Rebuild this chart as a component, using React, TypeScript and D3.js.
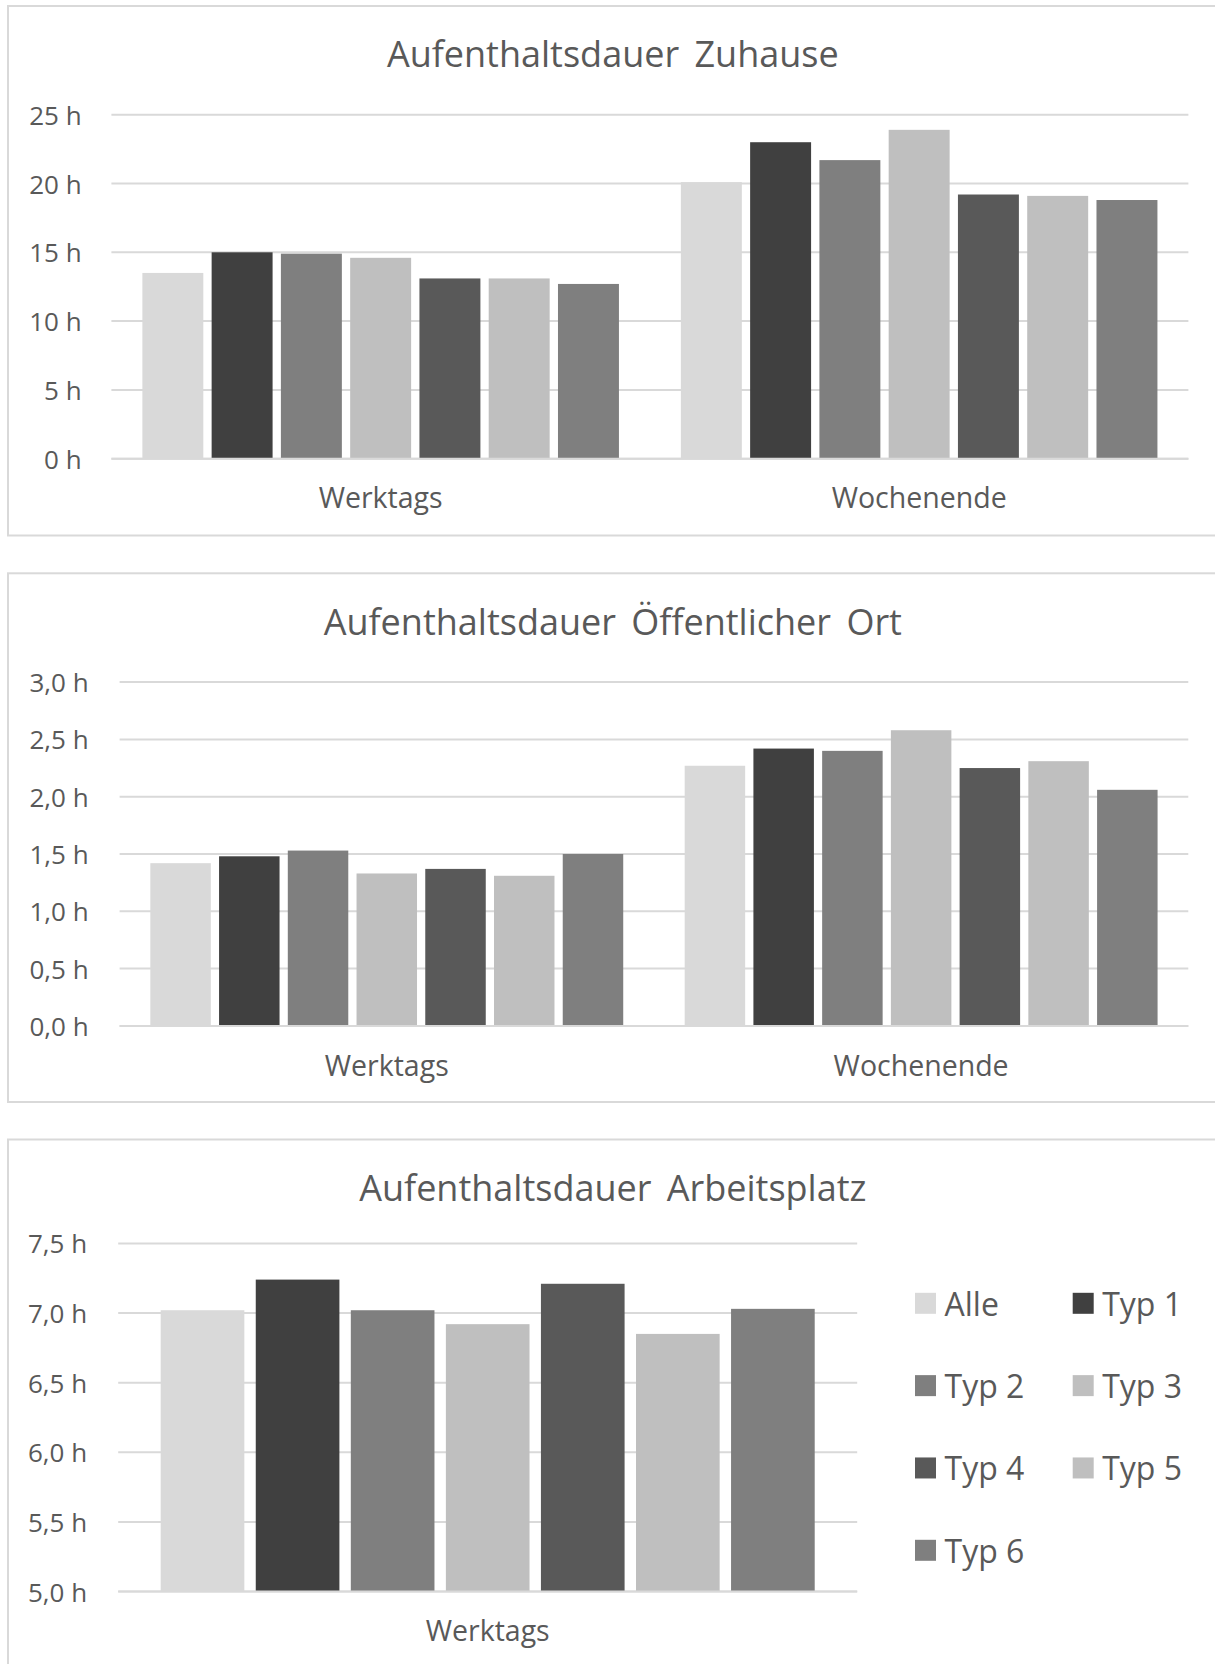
import React from 'react';
import * as d3 from 'd3';

const seriesNames = ['Alle', 'Typ 1', 'Typ 2', 'Typ 3', 'Typ 4', 'Typ 5', 'Typ 6'];
const seriesColors = ['#d9d9d9', '#404040', '#7f7f7f', '#bfbfbf', '#595959', '#bfbfbf', '#7f7f7f'];

const categoriesTwo = ['Werktags', 'Wochenende'];
const categoriesOne = ['Werktags'];

const zuhauseWerktags = [13.5, 15.0, 14.9, 14.6, 13.1, 13.1, 12.7];
const zuhauseWochenende = [20.1, 23.0, 21.7, 23.9, 19.2, 19.1, 18.8];
const zuhauseTicks = [0, 5, 10, 15, 20, 25];

const oeffentlichWerktags = [1.42, 1.48, 1.53, 1.33, 1.37, 1.31, 1.5];
const oeffentlichWochenende = [2.27, 2.42, 2.4, 2.58, 2.25, 2.31, 2.06];
const oeffentlichTicks = [0, 0.5, 1.0, 1.5, 2.0, 2.5, 3.0];

const arbeitWerktags = [7.02, 7.24, 7.02, 6.92, 7.21, 6.85, 7.03];
const arbeitTicks = [5.0, 5.5, 6.0, 6.5, 7.0, 7.5];

const titles = ['Aufenthaltsdauer Zuhause', 'Aufenthaltsdauer Öffentlicher Ort', 'Aufenthaltsdauer Arbeitsplatz'];

const deLocale = d3.formatLocale({ decimal: ',', thousands: '.', grouping: [3], currency: ['', ' €'] });
const fmtInt = (d: number) => `${deLocale.format('d')(d)} h`;
const fmtDec = (d: number) => `${deLocale.format('.1f')(d)} h`;

const FONT = "'Open Sans', 'Noto Sans', sans-serif";
const TEXT = '#595959';
const GRID = '#d9d9d9';

type PanelProps = {
  title: string;
  categories: string[];
  values: number[][];
  ticks: number[];
  fmt: (d: number) => string;
  layout: {
    boxTop: number;
    boxBottom: number;
    titleY: number;
    yRange: [number, number];
    gridX: [number, number];
    tickX: number;
    catY: number;
  };
};

function Panel({ title, categories, values, ticks, fmt, layout }: PanelProps) {
  const y = d3.scaleLinear().domain([ticks[0], ticks[ticks.length - 1]]).range(layout.yRange);
  const x0 = d3.scaleBand<string>().domain(categories).range(layout.gridX).paddingInner(0.115).paddingOuter(0.0575);
  const x1 = d3.scaleBand<string>().domain(seriesNames).range([0, x0.bandwidth()]).paddingInner(0.12).paddingOuter(0);
  const base = y(ticks[0]);
  return (
    <g>
      <rect x={8} y={layout.boxTop} width={1215} height={layout.boxBottom - layout.boxTop} fill="#fff" stroke={GRID} strokeWidth={2} />
      <text x={612.8} y={layout.titleY} textAnchor="middle" fontFamily={FONT} fontSize={36} wordSpacing={6} fill={TEXT}>{title}</text>
      {ticks.map((t) => (
        <g key={t}>
          <line x1={layout.gridX[0]} x2={layout.gridX[1]} y1={y(t)} y2={y(t)} stroke={GRID} strokeWidth={2} />
          <text x={layout.tickX} y={y(t)} textAnchor="end" dominantBaseline="central" fontFamily={FONT} fontSize={26} fill={TEXT}>{fmt(t)}</text>
        </g>
      ))}
      {categories.map((c, ci) => (
        <g key={c} transform={`translate(${x0(c)},0)`}>
          {values[ci].map((v, si) => (
            <rect key={si} x={x1(seriesNames[si])} y={y(v)} width={x1.bandwidth()} height={base - y(v)} fill={seriesColors[si]} />
          ))}
          <text x={x0.bandwidth() / 2} y={layout.catY} textAnchor="middle" fontFamily={FONT} fontSize={28.5} fill={TEXT}>{c}</text>
        </g>
      ))}
      <line x1={layout.gridX[0]} x2={layout.gridX[1]} y1={base} y2={base} stroke={GRID} strokeWidth={2} />
    </g>
  );
}

function Legend() {
  const cols = [915, 1072.7];
  const rowY = d3.scaleLinear().domain([0, 3]).range([1303.3, 1550.3]);
  return (
    <g>
      {seriesNames.map((n, i) => {
        const cx = cols[i % 2];
        const cy = rowY(Math.floor(i / 2));
        return (
          <g key={n}>
            <rect x={cx} y={cy - 10.5} width={21} height={21} fill={seriesColors[i]} />
            <text x={cx + 29.5} y={cy} dominantBaseline="central" fontFamily={FONT} fontSize={32} fill={TEXT}>{n}</text>
          </g>
        );
      })}
    </g>
  );
}

export default function App() {
  return (
    <svg width={1215} height={1664} style={{ position: 'absolute', left: 0, top: 0, background: '#fff' }}>
      <rect x={0} y={0} width={1215} height={1664} fill="#fff" />
      <Panel
        title={titles[0]}
        categories={categoriesTwo}
        values={[zuhauseWerktags, zuhauseWochenende]}
        ticks={zuhauseTicks}
        fmt={fmtInt}
        layout={{ boxTop: 6, boxBottom: 535.5, titleY: 67, yRange: [458.7, 114.7], gridX: [111.4, 1188.4], tickX: 81.7, catY: 508 }}
      />
      <Panel
        title={titles[1]}
        categories={categoriesTwo}
        values={[oeffentlichWerktags, oeffentlichWochenende]}
        ticks={oeffentlichTicks}
        fmt={fmtDec}
        layout={{ boxTop: 573.3, boxBottom: 1102, titleY: 634.5, yRange: [1025.9, 682.1], gridX: [119.6, 1188.3], tickX: 88.6, catY: 1076 }}
      />
      <Panel
        title={titles[2]}
        categories={categoriesOne}
        values={[arbeitWerktags]}
        ticks={arbeitTicks}
        fmt={fmtDec}
        layout={{ boxTop: 1139.5, boxBottom: 1700, titleY: 1200.8, yRange: [1591.5, 1243.4], gridX: [118.2, 857.2], tickX: 87.1, catY: 1641 }}
      />
      <Legend />
    </svg>
  );
}
